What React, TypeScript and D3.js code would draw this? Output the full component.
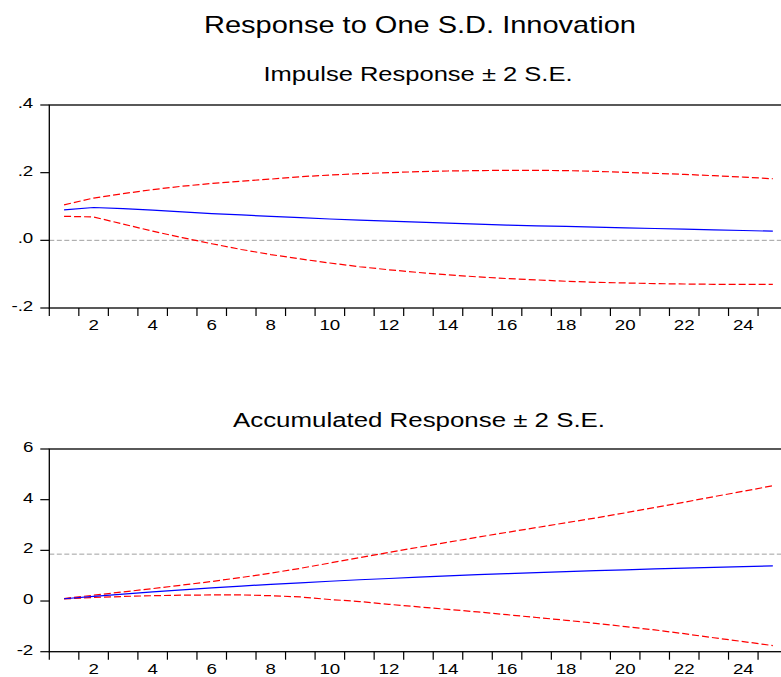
import React from "react";
import { scaleLinear, line } from "d3";

const periods = Array.from({ length: 25 }, (_, i) => i + 1);

// impulse response
const impulse = [0.090, 0.097, 0.094, 0.089, 0.084, 0.079, 0.075, 0.071, 0.067, 0.063, 0.060, 0.057, 0.054, 0.051, 0.048, 0.045, 0.043, 0.041, 0.039, 0.037, 0.035, 0.033, 0.031, 0.029, 0.027];
const impulseUpper = [0.105, 0.125, 0.138, 0.150, 0.160, 0.168, 0.175, 0.181, 0.188, 0.193, 0.197, 0.200, 0.203, 0.205, 0.206, 0.207, 0.207, 0.206, 0.204, 0.201, 0.198, 0.195, 0.191, 0.187, 0.182];
const impulseLower = [0.071, 0.069, 0.048, 0.027, 0.008, -0.010, -0.027, -0.042, -0.055, -0.067, -0.078, -0.087, -0.095, -0.102, -0.108, -0.113, -0.117, -0.121, -0.124, -0.126, -0.128, -0.129, -0.130, -0.130, -0.130];

// accumulated response
const accum = [0.09, 0.18, 0.27, 0.36, 0.44, 0.52, 0.59, 0.66, 0.72, 0.78, 0.84, 0.89, 0.94, 0.99, 1.04, 1.08, 1.12, 1.16, 1.20, 1.23, 1.27, 1.30, 1.33, 1.36, 1.39];
const accumUpper = [0.10, 0.23, 0.36, 0.49, 0.63, 0.77, 0.93, 1.10, 1.29, 1.50, 1.71, 1.92, 2.12, 2.32, 2.52, 2.71, 2.90, 3.09, 3.28, 3.48, 3.69, 3.90, 4.12, 4.33, 4.55];
const accumLower = [0.08, 0.14, 0.18, 0.21, 0.23, 0.24, 0.24, 0.21, 0.16, 0.06, -0.02, -0.13, -0.23, -0.33, -0.43, -0.54, -0.65, -0.76, -0.88, -1.01, -1.14, -1.29, -1.45, -1.60, -1.76];

const xTickLabels = [2, 4, 6, 8, 10, 12, 14, 16, 18, 20, 22, 24];
const topYTicks = [0.4, 0.2, 0, -0.2];
const topYLabels = [".4", ".2", ".0", "-.2"];
const bottomYTicks = [6, 4, 2, 0, -2];
const bottomYLabels = ["6", "4", "2", "0", "-2"];
const topRefLine = 0;
const bottomRefLine = 1.85;

const W = 781;
const H = 677;
const FONT = "'Liberation Sans', Arial, sans-serif";
const SX = 1.25;

const x = scaleLinear().domain([0.5, 25.5]).range([49.3, 787.6]);

type PanelProps = {
  top: number;
  bottom: number;
  domain: [number, number];
  ticks: number[];
  labels: string[];
  refLine: number;
  mid: number[];
  upper: number[];
  lower: number[];
};

const Panel = ({ top, bottom, domain, ticks, labels, refLine, mid, upper, lower }: PanelProps) => {
  const y = scaleLinear().domain(domain).range([bottom, top]);
  const gen = line<number>()
    .x((_, i) => x(periods[i]))
    .y((d) => y(d));
  const left = x.range()[0];
  const right = x.range()[1];
  const bounds = periods.map((p) => p - 0.5).concat([25.5]);
  return (
    <g>
      <line x1={left} x2={right} y1={y(refLine)} y2={y(refLine)} stroke="#a0a0a0" strokeWidth={1} strokeDasharray="5,2.5" />
      <path d={gen(upper) || ""} fill="none" stroke="#ff0000" strokeWidth={1.2} strokeDasharray="7,3" />
      <path d={gen(lower) || ""} fill="none" stroke="#ff0000" strokeWidth={1.2} strokeDasharray="7,3" />
      <path d={gen(mid) || ""} fill="none" stroke="#0000ff" strokeWidth={1.2} />
      <rect x={left} y={top} width={right - left} height={bottom - top} fill="none" stroke="#000" strokeWidth={1.3} />
      {ticks.map((t, i) => (
        <g key={"y" + i}>
          <line x1={left - 9} x2={left} y1={y(t)} y2={y(t)} stroke="#000" strokeWidth={1.2} />
          <text
            transform={`translate(${left - 16},${y(t) + 3}) scale(${SX},1)`}
            textAnchor="end"
            fontSize={15}
            fontFamily={FONT}
            fill="#000"
          >
            {labels[i]}
          </text>
        </g>
      ))}
      {bounds.map((b) => (
        <line key={"xt" + b} x1={x(b)} x2={x(b)} y1={bottom} y2={bottom + 8} stroke="#000" strokeWidth={1.2} />
      ))}
      {xTickLabels.map((v) => (
        <text
          key={"xl" + v}
          transform={`translate(${x(v)},${bottom + 22.3}) scale(${SX},1)`}
          textAnchor="middle"
          fontSize={15}
          fontFamily={FONT}
          fill="#000"
        >
          {v}
        </text>
      ))}
    </g>
  );
};

export default function App() {
  return (
    <svg width={W} height={H} style={{ position: "absolute", left: 0, top: 0, background: "#fff" }}>
      <rect width={W} height={H} fill="#fff" />
      <text x={420} y={33} textAnchor="middle" fontSize={24} fontFamily={FONT} textLength={432} lengthAdjust="spacingAndGlyphs">
        Response to One S.D. Innovation
      </text>
      <text x={418} y={81} textAnchor="middle" fontSize={20} fontFamily={FONT} textLength={309} lengthAdjust="spacingAndGlyphs">
        Impulse Response ± 2 S.E.
      </text>
      <text x={419} y={427} textAnchor="middle" fontSize={20} fontFamily={FONT} textLength={372} lengthAdjust="spacingAndGlyphs">
        Accumulated Response ± 2 S.E.
      </text>
      <Panel
        top={105}
        bottom={308}
        domain={[-0.2, 0.4]}
        ticks={topYTicks}
        labels={topYLabels}
        refLine={topRefLine}
        mid={impulse}
        upper={impulseUpper}
        lower={impulseLower}
      />
      <Panel
        top={449}
        bottom={651.7}
        domain={[-2, 6]}
        ticks={bottomYTicks}
        labels={bottomYLabels}
        refLine={bottomRefLine}
        mid={accum}
        upper={accumUpper}
        lower={accumLower}
      />
    </svg>
  );
}
